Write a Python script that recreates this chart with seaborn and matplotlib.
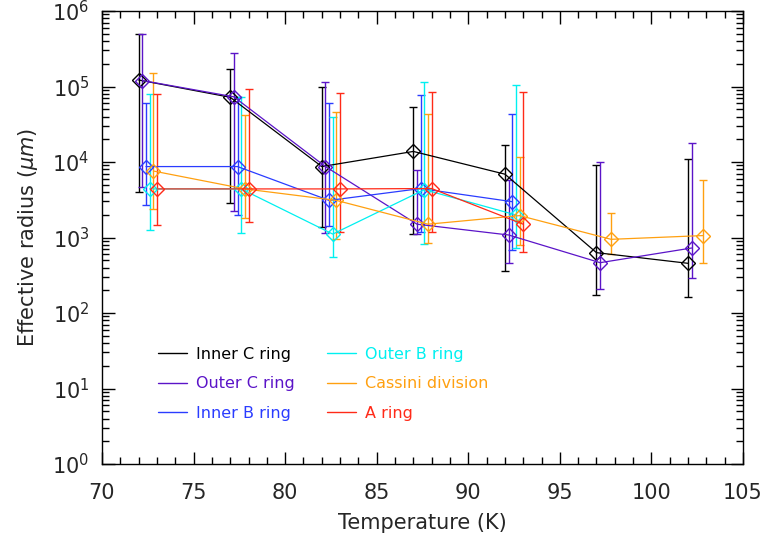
import numpy as np
import pandas as pd
import matplotlib
matplotlib.use("Agg")
import matplotlib.pyplot as plt
from matplotlib.lines import Line2D
from matplotlib.ticker import LogLocator, MultipleLocator, NullFormatter
import seaborn as sns

# ---------------- data ----------------
rings = ["Inner C ring", "Outer C ring", "Inner B ring",
         "Outer B ring", "Cassini division", "A ring"]
colors = ["#000000", "#5b14c8", "#2a3cff", "#00f0f0", "#ffa010", "#ff2a18"]

inner_c_T = [72.0, 77.0, 82.0, 87.0, 92.0, 97.0, 102.0]
inner_c_r = [1.22e5, 7.2e4, 8.7e3, 1.38e4, 6.9e3, 630, 455]
inner_c_lo = [4.0e3, 2.9e3, 1.39e3, 1.11e3, 363, 173, 164]
inner_c_hi = [5.0e5, 1.72e5, 9.8e4, 5.3e4, 1.68e4, 9.1e3, 1.08e4]

outer_c_T = [72.2, 77.2, 82.2, 87.2, 92.2, 97.2, 102.2]
outer_c_r = [1.2e5, 7.3e4, 8.7e3, 1.5e3, 1.08e3, 464, 726]
outer_c_lo = [4.7e3, 2.26e3, 1.14e3, 1.11e3, 464, 208, 288]
outer_c_hi = [5.0e5, 2.75e5, 1.16e5, 7.8e3, 5.8e3, 9.9e3, 1.8e4]

inner_b_T = [72.4, 77.4, 82.4, 87.4, 92.4]
inner_b_r = [8.7e3, 8.7e3, 3.1e3, 4.45e3, 2.98e3]
inner_b_lo = [2.7e3, 1.96e3, 1.42e3, 1.2e3, 680]
inner_b_hi = [6.0e4, 7.2e4, 6.0e4, 7.7e4, 4.3e4]

outer_b_T = [72.6, 77.6, 82.6, 87.6, 92.6]
outer_b_r = [4.4e3, 4.4e3, 1.11e3, 4.3e3, 1.99e3]
outer_b_lo = [1.26e3, 1.16e3, 557, 820, 720]
outer_b_hi = [8.0e4, 7.2e4, 4.0e4, 1.16e5, 1.05e5]

cassini_T = [72.8, 77.8, 82.8, 87.8, 92.8, 97.8, 102.8]
cassini_r = [7.6e3, 4.4e3, 3.1e3, 1.5e3, 1.95e3, 946, 1.06e3]
cassini_lo = [2.4e3, 1.8e3, 960, 850, 795, 603, 455]
cassini_hi = [1.5e5, 4.2e4, 4.6e4, 4.3e4, 1.18e4, 2.09e3, 5.7e3]

a_ring_T = [73.0, 78.0, 83.0, 88.0, 93.0]
a_ring_r = [4.4e3, 4.4e3, 4.4e3, 4.45e3, 1.5e3]
a_ring_lo = [1.45e3, 1.6e3, 1.17e3, 1.19e3, 650]
a_ring_hi = [8.0e4, 9.2e4, 8.1e4, 8.5e4, 8.5e4]

series = [
    (inner_c_T, inner_c_r, inner_c_lo, inner_c_hi),
    (outer_c_T, outer_c_r, outer_c_lo, outer_c_hi),
    (inner_b_T, inner_b_r, inner_b_lo, inner_b_hi),
    (outer_b_T, outer_b_r, outer_b_lo, outer_b_hi),
    (cassini_T, cassini_r, cassini_lo, cassini_hi),
    (a_ring_T, a_ring_r, a_ring_lo, a_ring_hi),
]

frames = []
for name, (T, r, lo, hi) in zip(rings, series):
    frames.append(pd.DataFrame({"ring": name, "T": T, "r": r, "lo": lo, "hi": hi}))
df = pd.concat(frames, ignore_index=True)

# ---------------- plot ----------------
sns.set_style("ticks")
plt.rcParams["font.family"] = ["DejaVu Sans"]
plt.rcParams["mathtext.fontset"] = "dejavusans"

fig = plt.figure(figsize=(7.69, 5.43), dpi=100)
ax = fig.add_axes([102 / 769, 1 - 464 / 543, 641 / 769, 453 / 543])

for name, col in zip(rings, colors):
    sub = df[df["ring"] == name]
    ax.errorbar(sub["T"], sub["r"],
                yerr=[sub["r"] - sub["lo"], sub["hi"] - sub["r"]],
                fmt="none", ecolor=col, elinewidth=1.0, capsize=3, capthick=1.0,
                zorder=2)
    sns.lineplot(data=sub, x="T", y="r", ax=ax, color=col, linewidth=0.9,
                 marker="D", markersize=7.5, markerfacecolor="none",
                 markeredgecolor=col, markeredgewidth=1.0, sort=False,
                 legend=False, zorder=3)

ax.set_yscale("log")
ax.set_xlim(70, 105)
ax.set_ylim(1, 1e6)
ax.xaxis.set_major_locator(MultipleLocator(5))
ax.xaxis.set_minor_locator(MultipleLocator(1))
ax.yaxis.set_major_locator(LogLocator(base=10, numticks=10))
ax.yaxis.set_minor_locator(LogLocator(base=10, subs=np.arange(2, 10), numticks=20))
ax.yaxis.set_minor_formatter(NullFormatter())

ax.tick_params(which="both", direction="in", top=True, right=True,
               labelsize=15, color="black", width=1.0, pad=9)
ax.tick_params(axis="x", which="both", pad=14)
ax.tick_params(which="major", length=9)
ax.tick_params(which="minor", length=5)
for s in ax.spines.values():
    s.set_linewidth(1.0)
    s.set_color("black")

ax.set_xlabel("Temperature (K)", fontsize=15, labelpad=7)
ax.set_ylabel(r"Effective radius ($\mu m$)", fontsize=15, labelpad=9)

handles = [Line2D([], [], color=c, linewidth=1.0) for c in colors]
leg = ax.legend(handles, rings, loc="upper left", bbox_to_anchor=(0.065, 0.29),
                ncol=2, frameon=False, fontsize=11.5, handlelength=1.8,
                handletextpad=0.6, labelspacing=0.9, columnspacing=2.0,
                labelcolor=colors)

fig.savefig("out.png", dpi=100)
